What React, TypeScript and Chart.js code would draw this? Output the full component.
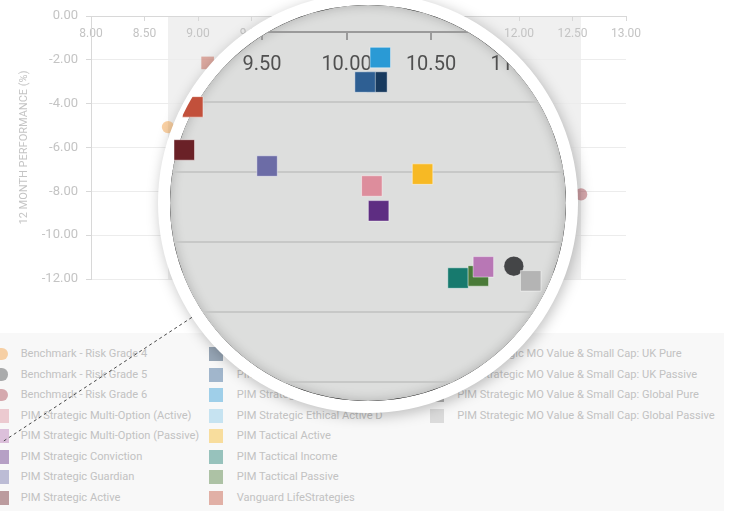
import { useEffect, useRef } from 'react';
import { Chart, registerables } from 'chart.js';

Chart.register(...registerables);
Chart.defaults.font.family = "Roboto, 'Open Sans', sans-serif";

// Fund series, in legend order
const SERIES = [
  'Benchmark - Risk Grade 4',
  'Benchmark - Risk Grade 5',
  'Benchmark - Risk Grade 6',
  'PIM Strategic Multi-Option (Active)',
  'PIM Strategic Multi-Option (Passive)',
  'PIM Strategic Conviction',
  'PIM Strategic Guardian',
  'PIM Strategic Active',
  'PIM Strategic Ethical Active A',
  'PIM Strategic Ethical Active B',
  'PIM Strategic Ethical Active C',
  'PIM Strategic Ethical Active D',
  'PIM Tactical Active',
  'PIM Tactical Income',
  'PIM Tactical Passive',
  'Vanguard LifeStrategies',
  'PIM Strategic MO Value & Small Cap: UK Pure',
  'PIM Strategic MO Value & Small Cap: UK Passive',
  'PIM Strategic MO Value & Small Cap: Global Pure',
  'PIM Strategic MO Value & Small Cap: Global Passive',
];

// Volatility (%) per series (null = not plotted)
const VOLATILITY: (number | null)[] = [
  8.72, 10.99, 12.58, 10.15, 10.81, 10.19, 9.53, 9.04,
  10.18, 10.11, 10.2, null, 10.45, 10.66, 10.78, 9.09,
  null, null, null, 11.09,
];

// 12 month performance (%) per series
const PERFORMANCE: (number | null)[] = [
  -5.07, -6.69, -8.14, -4.4, -6.71, -5.11, -3.83, -3.37,
  -1.43, -1.43, -0.73, null, -4.06, -7.03, -6.97, -2.14,
  null, null, null, -7.11,
];

const COLORS = [
  '#f49a36', '#444547', '#a8404c', '#dd8d9c', '#b877b5', '#5e2d82', '#6c6ca6', '#6a2127',
  '#183a5e', '#2e5f93', '#2a9ad5', '#84c8e8', '#f7b924', '#177a6e', '#4a7a38', '#c2503b',
  '#7a7a7a', '#999999', '#5a5a5a', '#b4b4b4',
];

const X_TICKS = [8, 8.5, 9, 9.5, 10, 10.5, 11, 11.5, 12, 12.5, 13];
const Y_TICKS = [0, -2, -4, -6, -8, -10, -12];

const W = 729;
const H = 513;

// Magnifier geometry
const LENS = { cx: 368, cy: 203, rOut: 210, rIn: 198, rMarks: 205 };
const LENS_VIEW = { xMin: 7.9497, xMax: 12.2633, yMin: -13.743, yMax: 0 };

const isBenchmark = (name: string) => name.startsWith('Benchmark');
const drawnLast = new Set(['PIM Strategic Multi-Option (Passive)']);

function withAlpha(hex: string, a: number) {
  const n = parseInt(hex.slice(1), 16);
  return `rgba(${(n >> 16) & 255},${(n >> 8) & 255},${n & 255},${a})`;
}

function buildDatasets(lens: boolean) {
  return SERIES.map((name, i) => {
    const x = VOLATILITY[i];
    const y = PERFORMANCE[i];
    const bench = isBenchmark(name);
    const radius = lens ? (bench ? 10 : 14.5) : (bench ? 6.2 : 8.9);
    return {
      label: name,
      data: x == null || y == null ? [] : [{ x, y }],
      pointStyle: bench ? 'circle' : 'rect',
      pointRadius: radius,
      pointHoverRadius: radius,
      backgroundColor: lens ? COLORS[i] : withAlpha(COLORS[i], 0.45),
      borderColor: lens ? 'rgba(255,255,255,0.45)' : 'rgba(0,0,0,0)',
      borderWidth: lens ? 1 : 0,
      order: drawnLast.has(name) ? -100 : -i,
      clip: false as any,
    };
  });
}

const fixedTicks = (vals: number[]) => (scale: any) => {
  scale.ticks = vals
    .filter((v) => v >= scale.min - 1e-9 && v <= scale.max + 1e-9)
    .map((v) => ({ value: v }));
};

// fix an axis box size and drop the label overhang padding
const fixSize = (dim: 'width' | 'height', size: number) => (s: any) => {
  s[dim] = size;
  s.paddingLeft = 0;
  s.paddingRight = 0;
  s.paddingTop = 0;
  s.paddingBottom = 0;
};

// light band spanning the benchmark volatility range
const benchmarkBand = {
  id: 'benchmarkBand',
  beforeDraw(chart: any) {
    const xs = SERIES.map((n, i) => (isBenchmark(n) ? VOLATILITY[i] : null)).filter(
      (v): v is number => v != null
    );
    const { ctx, chartArea, scales } = chart;
    const x0 = scales.x.getPixelForValue(Math.min(...xs));
    const x1 = scales.x.getPixelForValue(Math.max(...xs));
    ctx.save();
    ctx.fillStyle = '#f0f0f0';
    ctx.fillRect(x0, chartArea.top, x1 - x0, chartArea.bottom - chartArea.top);
    ctx.restore();
  },
};

function circlePath(ctx: CanvasRenderingContext2D, r: number) {
  ctx.beginPath();
  ctx.arc(LENS.cx, LENS.cy, r, 0, Math.PI * 2);
}

const lensFrame = {
  id: 'lensFrame',
  beforeDraw(chart: any) {
    const ctx: CanvasRenderingContext2D = chart.ctx;
    // white rim with drop shadow
    ctx.save();
    ctx.shadowColor = 'rgba(0,0,0,0.25)';
    ctx.shadowBlur = 14;
    ctx.shadowOffsetX = 2;
    ctx.shadowOffsetY = 3;
    circlePath(ctx, LENS.rOut);
    ctx.fillStyle = '#ffffff';
    ctx.fill();
    ctx.restore();
    // glass
    ctx.save();
    circlePath(ctx, LENS.rIn);
    ctx.fillStyle = '#dddedd';
    ctx.fill();
    ctx.clip();
    // inner shadow
    circlePath(ctx, LENS.rIn + 15);
    ctx.lineWidth = 30;
    ctx.strokeStyle = '#000';
    ctx.shadowColor = 'rgba(0,0,0,0.22)';
    ctx.shadowBlur = 12;
    ctx.stroke();
    ctx.restore();
    // grid and axis stay inside the glass
    ctx.save();
    circlePath(ctx, LENS.rIn);
    ctx.clip();
  },
  beforeDatasetsDraw(chart: any) {
    const ctx: CanvasRenderingContext2D = chart.ctx;
    ctx.restore();
    ctx.save();
    circlePath(ctx, LENS.rMarks);
    ctx.clip();
  },
  afterDatasetsDraw(chart: any) {
    chart.ctx.restore();
  },
  afterDraw(chart: any) {
    const ctx: CanvasRenderingContext2D = chart.ctx;
    // dotted leader line towards the legend
    const a = (147 * Math.PI) / 180;
    const sx = LENS.cx + LENS.rOut * Math.cos(a);
    const sy = LENS.cy + LENS.rOut * Math.sin(a);
    ctx.save();
    ctx.setLineDash([3, 3]);
    ctx.strokeStyle = '#444';
    ctx.lineWidth = 1;
    ctx.beginPath();
    ctx.moveTo(sx, sy);
    ctx.lineTo(sx - 190, sy + 190 * 0.657);
    ctx.stroke();
    ctx.restore();
  },
};

export default function App() {
  const mainRef = useRef<HTMLCanvasElement>(null);
  const lensRef = useRef<HTMLCanvasElement>(null);

  useEffect(() => {
    const fmt = (v: any) => Number(v).toFixed(2);

    const main = new Chart(mainRef.current!, {
      type: 'scatter',
      data: { datasets: buildDatasets(false) as any },
      plugins: [benchmarkBand],
      options: {
        responsive: false,
        animation: false,
        devicePixelRatio: 1,
        events: [],
        layout: { autoPadding: false, padding: { left: 0, right: 103, top: 0, bottom: 21 } },
        plugins: { legend: { display: false }, tooltip: { enabled: false } },
        scales: {
          x: {
            type: 'linear',
            position: 'top',
            min: 8,
            max: 13,
            afterFit: fixSize('height', 16),
            afterBuildTicks: fixedTicks(X_TICKS),
            grid: { drawOnChartArea: false, color: '#d8d8d8', tickLength: -5 },
            border: { color: '#d8d8d8' },
            ticks: {
              mirror: true,
              padding: 11,
              color: '#c4c4c4',
              font: { size: 12 },
              autoSkip: false,
              maxRotation: 0,
              callback: fmt,
            },
          },
          y: {
            type: 'linear',
            min: -12,
            max: 0,
            afterFit: fixSize('width', 91),
            afterBuildTicks: fixedTicks(Y_TICKS),
            grid: { color: '#ececec', tickColor: '#d8d8d8', tickLength: 5 },
            border: { color: '#d8d8d8' },
            ticks: { padding: 8, color: '#c4c4c4', font: { size: 13 }, callback: fmt },
            title: {
              display: true,
              text: '12 MONTH PERFORMANCE (%)',
              color: '#c4c4c4',
              font: { size: 11 },
              padding: { top: 18, bottom: 0 },
            },
          },
        },
      } as any,
    });

    const lens = new Chart(lensRef.current!, {
      type: 'scatter',
      data: { datasets: buildDatasets(true) as any },
      plugins: [lensFrame],
      options: {
        responsive: false,
        animation: false,
        devicePixelRatio: 1,
        events: [],
        layout: { autoPadding: false, padding: 0 },
        plugins: { legend: { display: false }, tooltip: { enabled: false } },
        scales: {
          x: {
            type: 'linear',
            position: 'top',
            min: LENS_VIEW.xMin,
            max: LENS_VIEW.xMax,
            afterFit: fixSize('height', 32),
            afterBuildTicks: fixedTicks(X_TICKS),
            grid: { drawOnChartArea: false, color: '#9a9a9a', lineWidth: 2, tickLength: -8 },
            border: { color: '#9a9a9a', width: 2 },
            ticks: {
              mirror: true,
              padding: 20.5,
              color: '#505050',
              font: { size: 20 },
              autoSkip: false,
              maxRotation: 0,
              callback: fmt,
            },
          },
          y: {
            type: 'linear',
            min: LENS_VIEW.yMin,
            max: LENS_VIEW.yMax,
            afterFit: fixSize('width', 0),
            afterBuildTicks: fixedTicks(Y_TICKS),
            grid: { color: '#c7c8c7', lineWidth: 2, drawTicks: false },
            border: { display: false },
            ticks: { display: false },
          },
        },
      } as any,
    });

    return () => {
      main.destroy();
      lens.destroy();
    };
  }, []);

  const markerX = [1.5, 216.3, 437];
  const textX = [20.7, 236.7, 457.3];

  return (
    <div
      style={{
        position: 'absolute',
        left: 0,
        top: 0,
        width: W,
        height: H,
        background: '#ffffff',
        overflow: 'hidden',
      }}
    >
      <canvas ref={mainRef} width={W} height={300} style={{ position: 'absolute', left: 0, top: 0 }} />
      <div
        style={{
          position: 'absolute',
          left: 0,
          top: 333,
          width: 724,
          height: 178,
          background: '#f8f8f8',
          fontFamily: "Roboto, 'Open Sans', sans-serif",
          fontSize: 11.1,
          color: '#c2c2c2',
        }}
      >
        {SERIES.map((name, i) => {
          const col = Math.floor(i / 8);
          const row = i % 8;
          const cy = 21 + row * 20.5;
          const bench = isBenchmark(name);
          const size = bench ? 12.5 : 14;
          return (
            <div key={name}>
              <div
                style={{
                  position: 'absolute',
                  left: markerX[col] - size / 2,
                  top: cy - size / 2,
                  width: size,
                  height: size,
                  borderRadius: bench ? '50%' : 0,
                  background: COLORS[i],
                  opacity: 0.43,
                }}
              />
              <div
                style={{
                  position: 'absolute',
                  left: textX[col],
                  top: cy - 8,
                  height: 16,
                  lineHeight: '16px',
                  whiteSpace: 'nowrap',
                }}
              >
                {name}
              </div>
            </div>
          );
        })}
      </div>
      <canvas
        ref={lensRef}
        width={W}
        height={H}
        style={{ position: 'absolute', left: 0, top: 0, pointerEvents: 'none' }}
      />
    </div>
  );
}
